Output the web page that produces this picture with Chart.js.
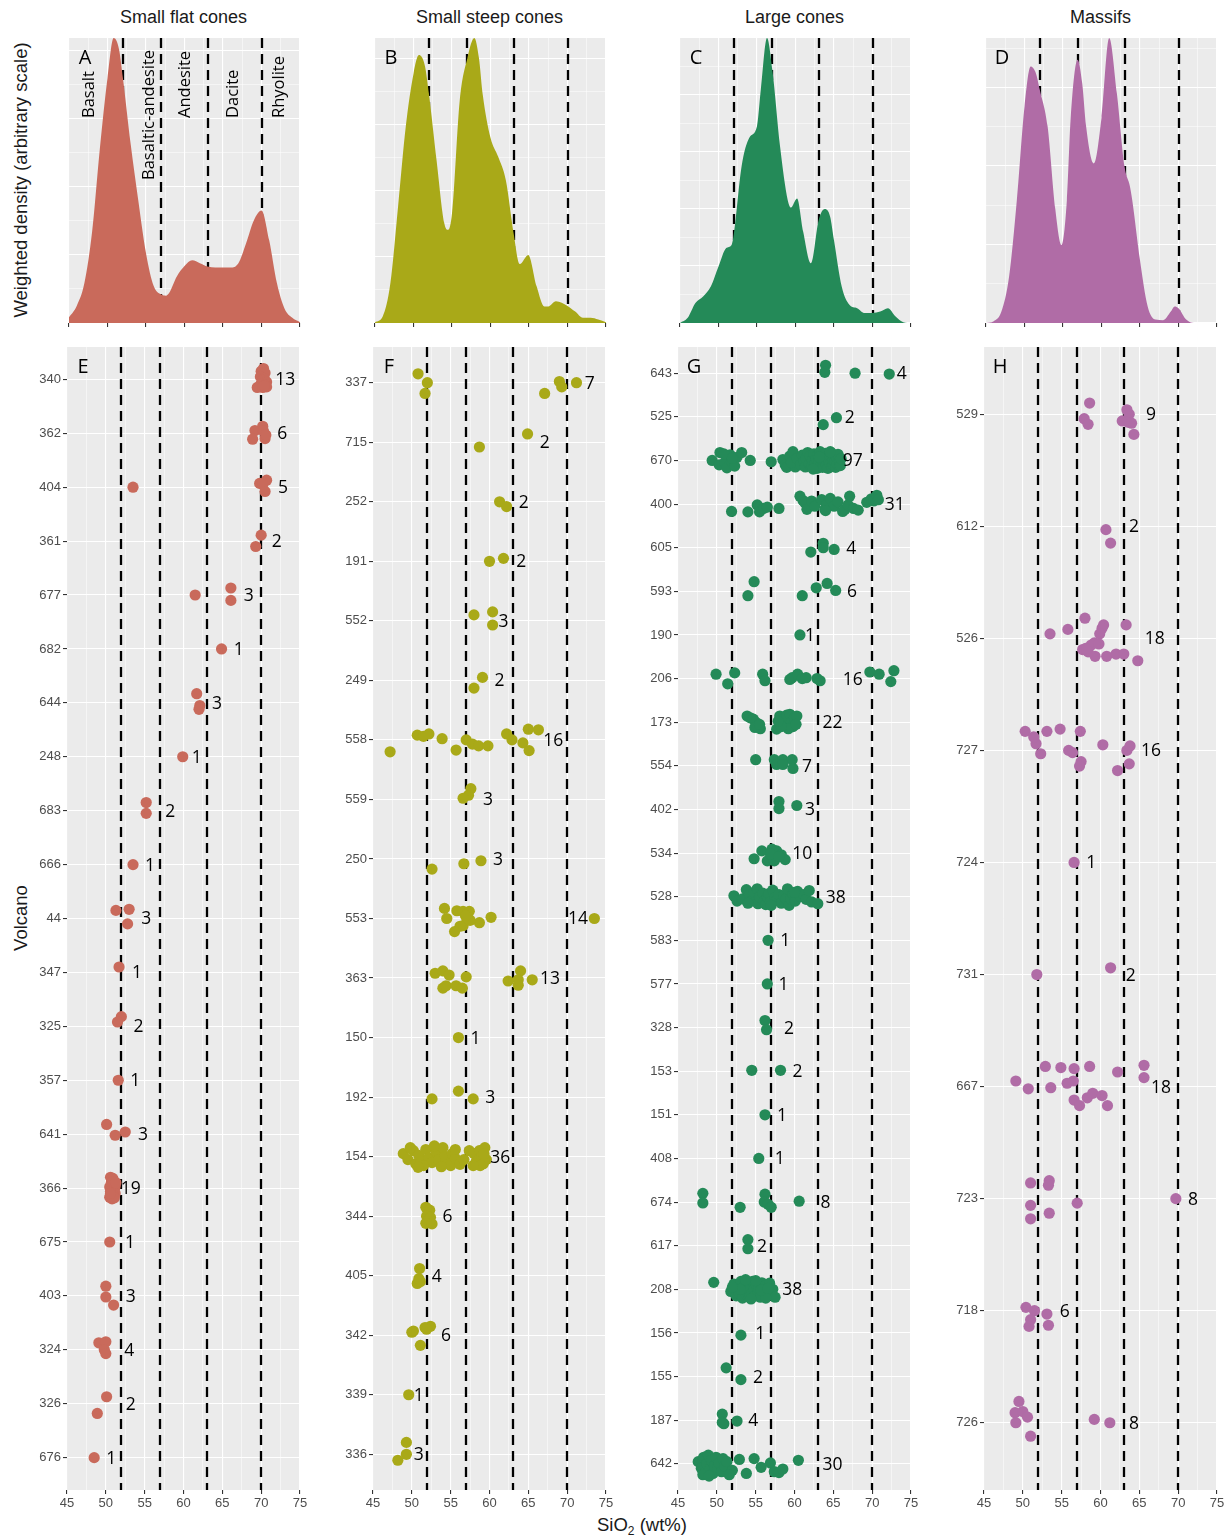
<!DOCTYPE html>
<html>
<head>
<meta charset="utf-8">
<script src="https://cdn.jsdelivr.net/npm/chart.js@4.4.0/dist/chart.umd.min.js"></script>
<style>
  body { margin: 0; background: #fff; width: 1231px; height: 1536px; position: relative; overflow: hidden;
         font-family: "Liberation Sans", Arial, sans-serif; color: #1a1a1a; }
  .box { position: absolute; }
  .title { position: absolute; top: 7px; width: 233px; text-align: center; font-size: 18px; }
  .rot { position: absolute; transform: translate(-50%, -50%) rotate(-90deg); white-space: nowrap; font-size: 18.5px; }
  .xlab { position: absolute; transform: translate(-50%, -50%); white-space: nowrap; font-size: 18.5px; }
</style>
</head>
<body>
<div class="title" style="left:67px">Small flat cones</div>
<div class="title" style="left:373px">Small steep cones</div>
<div class="title" style="left:678px">Large cones</div>
<div class="title" style="left:984px">Massifs</div>
<div class="rot" style="left:21px;top:180px">Weighted density (arbitrary scale)</div>
<div class="rot" style="left:21px;top:918px">Volcano</div>
<div class="xlab" style="left:642px;top:1526px">SiO<sub style="font-size:12px">2</sub> (wt%)</div>

<script>
//---- données

const xTicks = [45, 50, 55, 60, 65, 70, 75];
const classBounds = [52, 57, 63, 70];
const rockNames = ["Basalt", "Basaltic-andesite", "Andesite", "Dacite", "Rhyolite"];

// densités (fraction de la hauteur du panneau)
const densAx = [45,46,47,48,49,50,50.8,51.5,52,53,54,55,56,57,57.6,58,59,60,61,62,63,64,65,66,67,68,69,70,71,72,73,74,75];
const densAy = [0.02,0.06,0.14,0.32,0.61,0.86,1.0,0.96,0.86,0.63,0.43,0.245,0.13,0.1,0.096,0.105,0.163,0.2,0.22,0.21,0.198,0.195,0.195,0.195,0.21,0.28,0.36,0.395,0.29,0.14,0.05,0.018,0.003];
const densBx = [45,46,47,48,49,50,50.7,51.5,52,53,54,54.5,55,56,57,57.9,58.5,59,60,61,62,63,63.8,64.9,66,67,67.5,68.5,70,71,72,73,74,75];
const densBy = [0.003,0.023,0.14,0.41,0.69,0.875,0.94,0.9,0.805,0.57,0.35,0.327,0.385,0.78,0.93,1.0,0.93,0.8,0.65,0.583,0.5,0.315,0.207,0.239,0.128,0.058,0.058,0.076,0.06,0.04,0.018,0.018,0.012,0.003];
const densCx = [45,46,47,48,49,50,51,51.7,52,53,54,55,55.5,56.3,57,58,59,59.4,60.2,61,62,63,63.8,64.5,65,66,67,68,69,70,71,72,73,74,75];
const densCy = [0,0.018,0.07,0.093,0.128,0.198,0.263,0.274,0.315,0.55,0.65,0.69,0.82,1.0,0.887,0.618,0.43,0.405,0.437,0.32,0.21,0.36,0.40,0.373,0.29,0.128,0.064,0.052,0.035,0.035,0.04,0.052,0.023,0.003,0];
const densDx = [45,46,47,48,49,50,50.8,51.5,52,53,54,54.8,55.5,56,56.9,57.5,58,59,60,61,62,63,63.7,64,65,66,67,68,69,69.5,70,71,72,75];
const densDy = [0,0.006,0.04,0.163,0.43,0.76,0.90,0.875,0.817,0.69,0.40,0.274,0.43,0.72,0.924,0.84,0.69,0.56,0.72,1.0,0.805,0.548,0.478,0.43,0.22,0.058,0.012,0.01,0.04,0.058,0.052,0.012,0,0];

// E : petits cônes plats  [SiO2, décalage vertical]
const volcE = ["340","362","404","361","677","682","644","248","683","666","44","347","325","357","641","366","675","403","324","326","676"];
const countE = [13,6,5,2,3,1,3,1,2,1,3,1,2,1,3,19,1,3,4,2,1];
const countXE = [73.1,72.7,72.8,72.0,68.4,67.1,64.3,61.7,58.3,55.7,55.2,54.0,54.2,53.8,54.8,53.2,53.1,53.2,53.0,53.2,50.7];
const ptsE = [
  [[70.3,-0.2],[70.0,-0.15],[70.5,-0.12],[69.9,-0.05],[70.4,-0.02],[70.2,0.02],[70.7,0.05],[70.0,0.08],[70.5,0.1],[69.5,0.15],[70.2,0.15],[70.7,0.14],[70.4,0.12]],
  [[69.2,-0.05],[70.2,-0.13],[70.3,-0.04],[68.9,0.11],[70.5,0.1],[70.6,0.03]],
  [[53.5,0],[69.8,-0.07],[70.7,-0.13],[70.2,-0.05],[70.5,0.08]],
  [[70.0,-0.11],[69.3,0.1]],
  [[61.5,0],[66.1,-0.13],[66.1,0.1]],
  [[64.9,0]],
  [[61.7,-0.17],[62.1,0.05],[62.0,0.12]],
  [[59.9,0]],
  [[55.2,-0.15],[55.2,0.05]],
  [[53.5,0]],
  [[51.3,-0.15],[53.0,-0.17],[52.8,0.1]],
  [[51.7,-0.1]],
  [[52.0,-0.18],[51.5,-0.08]],
  [[51.6,0]],
  [[50.1,-0.18],[51.2,0.02],[52.5,-0.04]],
  [[50.6,-0.2],[50.9,-0.18],[50.7,-0.1],[51.0,-0.08],[51.2,-0.03],[50.5,-0.02],[50.8,0.0],[51.1,0.03],[50.6,0.06],[50.9,0.08],[51.2,0.1],[50.7,0.13],[51.0,0.15],[50.5,0.17],[50.8,0.2],[51.1,0.18],[50.9,-0.12],[51.3,-0.1],[50.6,0.1]],
  [[50.5,0]],
  [[50.0,-0.18],[50.0,0.02],[51.0,0.17]],
  [[49.1,-0.13],[50.0,-0.15],[49.8,0],[50.0,0.07]],
  [[50.1,-0.13],[48.9,0.18]],
  [[48.5,0]]
];

// F : petits cônes raides
const volcF = ["337","715","252","191","552","249","558","559","250","553","363","150","192","154","344","405","342","339","336"];
const countF = [7,2,2,2,3,2,16,3,3,14,13,1,3,36,6,4,6,1,3];
const countXF = [72.9,67.1,64.4,64.1,61.8,61.3,68.2,59.8,61.1,71.4,67.8,58.2,60.1,61.4,54.6,53.2,54.4,50.9,50.9];
const ptsF = [
  [[50.8,-0.15],[52.0,0],[51.7,0.18],[67.1,0.18],[69.0,-0.02],[69.3,0.07],[71.2,0]],
  [[64.9,-0.14],[58.7,0.08]],
  [[61.3,0],[62.2,0.08]],
  [[60.0,0],[61.8,-0.05]],
  [[58.0,-0.1],[60.4,-0.15],[60.4,0.07]],
  [[59.1,-0.05],[58.0,0.13]],
  [[47.2,0.2],[50.7,-0.08],[51.5,-0.06],[52.2,-0.1],[53.9,-0.02],[55.7,0.17],[57.0,0.0],[57.8,0.07],[58.6,0.1],[59.8,0.1],[62.2,-0.1],[62.9,0.0],[64.3,0.05],[65.0,-0.18],[66.3,-0.17],[65.1,0.18]],
  [[57.6,-0.18],[57.3,-0.07],[56.6,-0.02]],
  [[52.6,0.17],[56.7,0.08],[58.9,0.03]],
  [[54.2,-0.17],[54.5,0],[55.8,-0.13],[56.6,-0.12],[57.4,-0.12],[57.1,0],[56.6,0.12],[56.2,0.13],[55.5,0.22],[58.7,0.07],[60.2,-0.02],[73.5,0],[57.5,0.03],[56.9,-0.05]],
  [[53.0,-0.08],[54.0,-0.12],[54.8,-0.05],[54.0,0.17],[54.4,0.13],[55.7,0.13],[56.5,0.17],[57.0,-0.02],[62.4,0.05],[64.0,-0.12],[63.7,0.03],[63.7,0.12],[65.5,0.03]],
  [[56.0,0]],
  [[52.6,0.03],[56.0,-0.1],[57.9,0.03]],
  [[48.9,-0.05],[49.5,0.05],[50.2,-0.1],[50.5,0.12],[50.9,-0.02],[51.2,0.08],[51.8,-0.12],[52.2,0.02],[52.6,0.1],[53.1,-0.08],[53.5,0.05],[54.0,-0.15],[54.3,0.0],[54.8,0.12],[55.2,-0.05],[55.0,0.15],[55.6,0.03],[56.2,0.13],[56.7,0.05],[57.4,-0.1],[58.0,-0.05],[58.3,0.08],[58.7,-0.1],[59.0,0.0],[59.2,0.12],[59.4,-0.15],[59.6,0.05],[58.8,0.15],[59.3,-0.05],[49.8,-0.15],[51.5,0.15],[52.9,-0.18],[53.8,0.17],[55.6,-0.12],[57.9,0.15],[50.8,0.18]],
  [[51.8,-0.15],[52.3,-0.1],[51.9,0.0],[52.4,0.02],[51.8,0.12],[52.6,0.13]],
  [[51.0,-0.12],[50.7,0.13],[51.1,0.1],[50.9,0.05]],
  [[50.2,-0.07],[51.7,-0.13],[52.4,-0.15],[51.1,0.17],[50.0,-0.05],[51.9,-0.1]],
  [[49.6,0]],
  [[49.3,-0.2],[49.3,0],[48.2,0.1]]
];

// G : grands cônes
const volcG = ["643","525","670","400","605","593","190","206","173","554","402","534","528","583","577","328","153","151","408","674","617","208","156","155","187","642"];
const countG = [4,2,97,31,4,6,1,16,22,7,3,10,38,1,1,2,2,1,1,8,2,38,1,2,4,30];
const countXG = [73.8,67.1,67.5,72.9,67.3,67.4,62.0,67.5,64.9,61.6,62.0,61.0,65.3,58.8,58.6,59.3,60.4,58.4,58.1,64.0,55.8,59.7,55.6,55.3,54.7,64.9];
const ptsG = [
  [[64.0,-0.18],[63.9,-0.02],[67.8,0],[72.2,0.02]],
  [[65.4,0.02],[63.7,0.18]],
  [[49.4,0.0],[50.3,0.1],[50.4,-0.18],[51.0,0.05],[51.3,0.17],[51.7,-0.13],[51.9,0.02],[52.3,0.13],[52.6,-0.07],[53.2,-0.18],[50.9,-0.15],[52.0,-0.05],
   [54.3,0.0],[57.0,0.03],[58.5,-0.02],[58.8,0.1],[59.0,0.16],[59.4,-0.1],[59.8,-0.2],[60.1,0.15],[59.6,0.05],[60.3,-0.05],
   [60.8,0.1],[61.0,-0.12],[61.2,0.02],[61.4,0.15],[61.5,-0.05],[61.7,-0.18],[61.9,0.08],[62.0,-0.1],[62.2,0.14],[62.3,0.0],[62.5,-0.15],[62.6,0.1],[62.8,-0.04],[62.9,0.18],[63.0,-0.12],[63.1,0.05],[63.3,-0.2],[63.4,0.12],[63.5,-0.02],[63.6,0.16],[63.8,-0.1],[63.9,0.04],[64.0,-0.16],[64.1,0.1],[64.2,-0.05],[64.3,0.18],[64.4,0.0],[64.5,-0.12],[64.6,0.08],[64.7,-0.18],[64.8,0.14],[64.9,-0.02],[65.0,0.1],[65.1,-0.1],[65.2,0.03],[65.3,0.16],[65.4,-0.06],[65.5,0.08],[65.6,-0.14],[65.8,0.02],[65.9,0.12],[66.0,-0.04],[62.4,0.2],[63.2,-0.08],[64.6,-0.2]],
  [[51.9,0.17],[54.0,0.18],[55.2,0.02],[55.5,0.18],[56.0,0.1],[56.5,0.07],[58.0,0.1],[60.7,-0.18],[61.1,-0.08],[61.3,-0.04],[61.6,0.12],[62.2,-0.07],[62.6,0.05],[63.5,-0.1],[63.9,0.12],[64.2,0.0],[64.6,-0.13],[65.1,0.05],[65.6,-0.05],[66.2,0.17],[66.5,0.12],[66.9,0.02],[67.1,-0.18],[67.6,0.1],[68.2,0.14],[69.3,-0.04],[69.9,-0.12],[70.2,-0.07],[70.6,-0.2],[70.8,-0.1],[64.0,0.15]],
  [[62.1,0.1],[63.7,-0.1],[63.7,0],[65.1,0.04]],
  [[54.0,0.1],[54.8,-0.22],[61.0,0.1],[62.8,-0.08],[64.2,-0.18],[65.3,-0.02]],
  [[60.7,0]],
  [[49.9,-0.1],[51.4,0.12],[52.3,-0.13],[55.9,-0.1],[56.2,0.05],[59.4,0.02],[59.7,-0.02],[60.4,-0.1],[61.0,0.0],[61.5,-0.02],[62.9,0.0],[63.3,0.05],[69.7,-0.15],[70.9,-0.1],[72.8,-0.18],[72.4,0.07]],
  [[53.9,-0.14],[54.3,-0.1],[54.7,-0.07],[55.0,0.0],[55.3,0.09],[55.6,0.15],[54.9,0.12],[55.5,0.05],[57.7,0.16],[58.1,-0.14],[58.5,-0.05],[58.8,0.05],[59.0,-0.16],[59.4,-0.18],[59.6,0.0],[59.8,0.1],[60.0,-0.1],[60.3,-0.14],[59.2,0.15],[58.3,0.1],[60.2,0.05],[57.9,-0.02]],
  [[55.0,-0.14],[57.4,-0.14],[58.5,-0.14],[59.7,-0.14],[57.7,-0.03],[58.5,-0.03],[59.8,0.06]],
  [[58.0,-0.18],[58.0,-0.02],[60.3,-0.09]],
  [[55.8,-0.05],[54.8,0.13],[57.1,-0.09],[56.5,0.18],[57.4,0.18],[57.7,-0.05],[58.3,0.04],[58.8,0.15],[56.9,0.02],[58.0,0.08]],
  [[52.2,-0.02],[52.6,0.1],[53.3,0.05],[53.8,-0.16],[54.2,-0.05],[54.5,0.1],[54.8,-0.1],[55.2,-0.18],[55.3,0.16],[55.5,0.0],[55.9,-0.08],[56.1,0.1],[56.3,0.18],[56.5,0.0],[56.7,-0.07],[56.9,0.12],[57.2,-0.15],[57.5,0.02],[57.7,0.09],[58.0,-0.05],[58.3,0.15],[58.6,-0.02],[58.9,0.05],[59.1,-0.18],[59.3,0.2],[59.5,0.05],[59.8,-0.07],[60.1,0.1],[60.4,-0.12],[60.8,0.0],[61.2,-0.05],[61.5,0.06],[61.9,-0.14],[62.2,0.12],[63.0,0.16],[54.0,0.15],[57.0,0.2],[60.0,-0.1]],
  [[56.6,0]],
  [[56.5,0]],
  [[56.2,-0.16],[56.4,0.05]],
  [[54.5,-0.02],[58.2,-0.02]],
  [[56.2,0]],
  [[55.4,0]],
  [[48.2,-0.2],[48.2,0.02],[53.0,0.12],[56.2,-0.18],[56.1,0],[56.6,0.05],[57.0,0.12],[60.6,-0.02]],
  [[54.0,-0.14],[54.0,0.07]],
  [[49.6,-0.16],[51.8,0.05],[52.2,-0.12],[52.5,0.15],[52.7,-0.02],[52.9,0.1],[53.1,-0.18],[53.3,0.2],[53.4,0.0],[53.6,-0.08],[53.8,0.12],[53.9,-0.15],[54.0,0.05],[54.2,0.18],[54.3,-0.05],[54.5,0.1],[54.6,-0.18],[54.8,0.0],[54.9,0.15],[55.1,-0.1],[55.3,0.08],[55.4,-0.02],[55.6,0.18],[55.8,-0.15],[56.0,0.05],[56.2,-0.08],[56.5,0.12],[56.8,-0.14],[57.2,0.0],[57.5,0.18],[53.0,0.0],[55.0,-0.2],[56.3,0.2],[52.0,-0.05],[54.4,0.22],[55.7,0.02],[53.7,-0.22],[56.6,-0.02]],
  [[53.1,0.05]],
  [[51.2,-0.2],[53.1,0.07]],
  [[50.7,-0.14],[50.7,0.05],[52.6,0.02],[50.9,0.08]],
  [[47.6,-0.05],[48.0,0.1],[48.3,-0.15],[48.5,0.2],[48.7,0.0],[48.9,-0.2],[49.1,0.12],[49.3,-0.08],[49.5,0.22],[49.7,0.05],[49.9,-0.15],[50.1,0.1],[50.3,-0.02],[50.6,0.18],[50.8,-0.12],[51.0,0.05],[48.2,0.25],[49.0,0.28],[51.3,-0.05],[52.0,0.15],[52.9,-0.1],[53.8,0.22],[54.8,-0.12],[55.7,0.08],[56.9,-0.02],[57.4,0.18],[58.0,0.2],[58.5,0.12],[60.5,-0.08],[51.6,0.25]]
];

// H : massifs
const volcH = ["529","612","526","727","724","731","667","723","718","726"];
const countH = [9,2,18,16,1,2,18,8,6,8];
const countXH = [66.5,64.3,67.0,66.5,58.8,63.9,67.8,71.9,55.4,64.3];
const ptsH = [
  [[58.6,-0.1],[57.9,0.04],[58.4,0.09],[63.4,-0.04],[63.7,0],[62.8,0.06],[63.5,0.07],[64.0,0.08],[64.3,0.18]],
  [[60.7,0.03],[61.3,0.15]],
  [[53.5,-0.04],[55.8,-0.08],[58.0,-0.18],[60.4,-0.12],[60.2,-0.09],[59.9,-0.04],[63.3,-0.12],[57.7,0.1],[58.4,0.12],[58.8,0.06],[59.2,0.04],[59.8,0.05],[59.3,0.16],[60.8,0.16],[62.0,0.14],[63.0,0.14],[64.8,0.2],[58.1,0.09]],
  [[50.3,-0.17],[51.7,-0.06],[51.4,-0.12],[52.3,0.03],[53.1,-0.17],[54.8,-0.19],[55.9,0],[56.4,0.02],[57.4,-0.17],[57.5,0.1],[57.3,0.14],[60.3,-0.05],[62.2,0.18],[63.4,0],[63.8,-0.04],[63.7,0.12]],
  [[56.6,0]],
  [[51.8,0],[61.3,-0.06]],
  [[49.1,-0.05],[50.7,0.02],[52.9,-0.18],[53.6,0.01],[54.9,-0.17],[55.7,-0.03],[56.5,-0.05],[56.6,-0.16],[56.6,0.12],[57.3,0.17],[58.6,-0.18],[58.3,0.1],[59.0,0.06],[60.2,0.08],[60.9,0.17],[62.2,-0.13],[65.6,-0.19],[65.6,-0.08]],
  [[51.0,-0.14],[53.4,-0.16],[53.3,-0.12],[51.0,0.06],[51.0,0.18],[53.4,0.13],[57.0,0.04],[69.7,0]],
  [[50.4,-0.03],[51.5,0.0],[51.0,0.08],[53.1,0.03],[53.3,0.13],[50.8,0.14]],
  [[49.5,-0.19],[49.0,-0.09],[50.0,-0.1],[50.6,-0.05],[49.1,0.0],[51.0,0.12],[59.2,-0.03],[61.2,0.0]]
];

//---- mise en page

const plotW = 233;
const columns = [
  { left: 67,  color: "#C96A5B", densX: densAx, densY: densAy, step: 0.2386, top: "A", bottom: "E", volc: volcE, pts: ptsE, count: countE, countX: countXE },
  { left: 373, color: "#A9A918", densX: densBx, densY: densBy, step: 0.2316, top: "B", bottom: "F", volc: volcF, pts: ptsF, count: countF, countX: countXF },
  { left: 678, color: "#248A58", densX: densCx, densY: densCy, step: 0.2000, top: "C", bottom: "G", volc: volcG, pts: ptsG, count: countG, countX: countXG },
  { left: 984, color: "#B06CA6", densX: densDx, densY: densDy, step: 0.2754, top: "D", bottom: "H", volc: volcH, pts: ptsH, count: countH, countX: countXH }
];
const rockLabelX = [47.6, 55.45, 60.1, 66.4, 72.3];
const rockLabelBase = [80, 142, 80, 80, 80];

// grille x : majeures + mineures au milieu
const gridX = [];
xTicks.forEach((v, i) => {
  gridX.push(v);
  if (i < xTicks.length - 1) gridX.push((v + xTicks[i + 1]) / 2);
});
const isMajor = v => xTicks.includes(v);

const tickFont = { family: "Liberation Sans", size: 13 };
const decoFont = '"Open Sans", "Noto Sans", sans-serif';

//! Plugin : fond gris, lignes en tirets, lettres, effectifs
const panelDeco = {
  id: "panelDeco",
  beforeDraw(chart) {
    const a = chart.chartArea, ctx = chart.ctx;
    ctx.save();
    ctx.fillStyle = "#EBEBEB";
    ctx.fillRect(a.left, a.top, a.right - a.left, a.bottom - a.top);
    ctx.restore();
  },
  beforeDatasetsDraw(chart) {
    const a = chart.chartArea, ctx = chart.ctx, xs = chart.scales.x;
    ctx.save();
    ctx.strokeStyle = "#000";
    ctx.lineWidth = 2.3;
    ctx.setLineDash([10, 6]);
    classBounds.forEach(v => {
      const px = Math.round(xs.getPixelForValue(v));
      ctx.beginPath();
      ctx.moveTo(px, a.top);
      ctx.lineTo(px, a.bottom);
      ctx.stroke();
    });
    ctx.restore();
  },
  afterDatasetsDraw(chart, args, opts) {
    const a = chart.chartArea, ctx = chart.ctx, xs = chart.scales.x, ys = chart.scales.y;
    ctx.save();
    ctx.fillStyle = "#000";
    ctx.textAlign = "center";
    ctx.textBaseline = "middle";
    ctx.font = "20px " + decoFont;
    ctx.fillText(opts.letter, a.left + 16, a.top + 20);

    if (opts.counts) {
      ctx.font = "17.5px " + decoFont;
      opts.counts.forEach((n, i) => {
        ctx.fillText(String(n), xs.getPixelForValue(opts.countX[i]), ys.getPixelForValue(i) + 1);
      });
    }
    if (opts.rocks) {
      ctx.font = "16.5px " + decoFont;
      ctx.textAlign = "left";
      rockNames.forEach((name, i) => {
        ctx.save();
        ctx.translate(xs.getPixelForValue(rockLabelX[i]), a.top + rockLabelBase[i]);
        ctx.rotate(-Math.PI / 2);
        ctx.fillText(name, 0, 0);
        ctx.restore();
      });
    }
    ctx.restore();
  }
};

function xScale(showLabels) {
  return {
    type: "linear", min: 45, max: 75, bounds: "data",
    afterBuildTicks: s => { s.ticks = gridX.map(v => ({ value: v })); },
    ticks: {
      autoSkip: false, maxRotation: 0, padding: 2, color: "#4D4D4D", font: tickFont,
      callback: v => (showLabels && isMajor(v)) ? String(v) : ""
    },
    grid: {
      color: "#FFFFFF",
      lineWidth: c => (c.tick && isMajor(c.tick.value)) ? 1.1 : 0.5,
      tickLength: 4,
      tickColor: c => (c.tick && isMajor(c.tick.value)) ? "#333333" : "rgba(0,0,0,0)"
    },
    border: { display: false },
    afterFit: s => { s.height = showLabels ? 22 : 7; }
  };
}

function makeBox(left, top, width, height) {
  const div = document.createElement("div");
  div.className = "box";
  div.style.left = left + "px";
  div.style.top = top + "px";
  div.style.width = width + "px";
  div.style.height = height + "px";
  const cv = document.createElement("canvas");
  div.appendChild(cv);
  document.body.appendChild(div);
  return cv;
}

const common = {
  responsive: true, maintainAspectRatio: false, animation: false, events: [],
};

columns.forEach(col => {
  //! densité pondérée (panneaux A-D)
  const padTop = 2, padRight = 12, plotH = 285, xh = 7;
  const cvTop = makeBox(col.left, 38 - padTop, plotW + padRight, padTop + plotH + xh);
  new Chart(cvTop, {
    type: "line",
    data: {
      datasets: [{
        data: col.densX.map((x, i) => ({ x: x, y: col.densY[i] })),
        fill: "origin",
        backgroundColor: col.color,
        borderColor: col.color,
        borderWidth: 0,
        pointRadius: 0,
        cubicInterpolationMode: "monotone"
      }]
    },
    options: Object.assign({}, common, {
      layout: { padding: { top: padTop, right: padRight, left: 0, bottom: 0 } },
      scales: {
        x: xScale(false),
        y: {
          type: "linear", min: 0, max: 1, bounds: "data",
          afterBuildTicks: s => {
            const t = [];
            for (let k = 0; k * col.step / 2 <= 1.0001; k++) t.push({ value: k * col.step / 2 });
            s.ticks = t;
          },
          ticks: { display: false },
          grid: { color: "#FFFFFF", lineWidth: c => (c.index % 2 === 0) ? 1.1 : 0.5, drawTicks: false },
          border: { display: false },
          afterFit: s => { s.width = 0; }
        }
      },
      plugins: {
        legend: { display: false }, tooltip: { enabled: false },
        panelDeco: { letter: col.top, rocks: col.top === "A" }
      }
    }),
    plugins: [panelDeco]
  });

  //! échantillons par volcan (panneaux E-H)
  const yw = 40, padTop2 = 10, plotH2 = 1143, xh2 = 22;
  const n = col.volc.length;
  const cvBot = makeBox(col.left - yw, 347 - padTop2, yw + plotW + padRight, padTop2 + plotH2 + xh2);
  const points = [];
  col.pts.forEach((row, i) => row.forEach(p => points.push({ x: p[0], y: i + p[1] })));
  new Chart(cvBot, {
    type: "scatter",
    data: {
      datasets: [{
        data: points,
        backgroundColor: col.color,
        borderWidth: 0,
        pointRadius: 5.6
      }]
    },
    options: Object.assign({}, common, {
      layout: { padding: { top: padTop2, right: padRight, left: 0, bottom: 0 } },
      scales: {
        x: xScale(true),
        y: {
          type: "linear", reverse: true, min: -0.6, max: n - 0.4, bounds: "data",
          afterBuildTicks: s => { s.ticks = col.volc.map((_, i) => ({ value: i })); },
          ticks: { autoSkip: false, padding: 2, color: "#4D4D4D", font: tickFont, callback: v => col.volc[v] },
          grid: { color: "#FFFFFF", lineWidth: 1.1, tickLength: 4, tickColor: "#333333" },
          border: { display: false },
          afterFit: s => { s.width = yw; }
        }
      },
      plugins: {
        legend: { display: false }, tooltip: { enabled: false },
        panelDeco: { letter: col.bottom, counts: col.count, countX: col.countX }
      }
    }),
    plugins: [panelDeco]
  });
});
</script>
</body>
</html>
